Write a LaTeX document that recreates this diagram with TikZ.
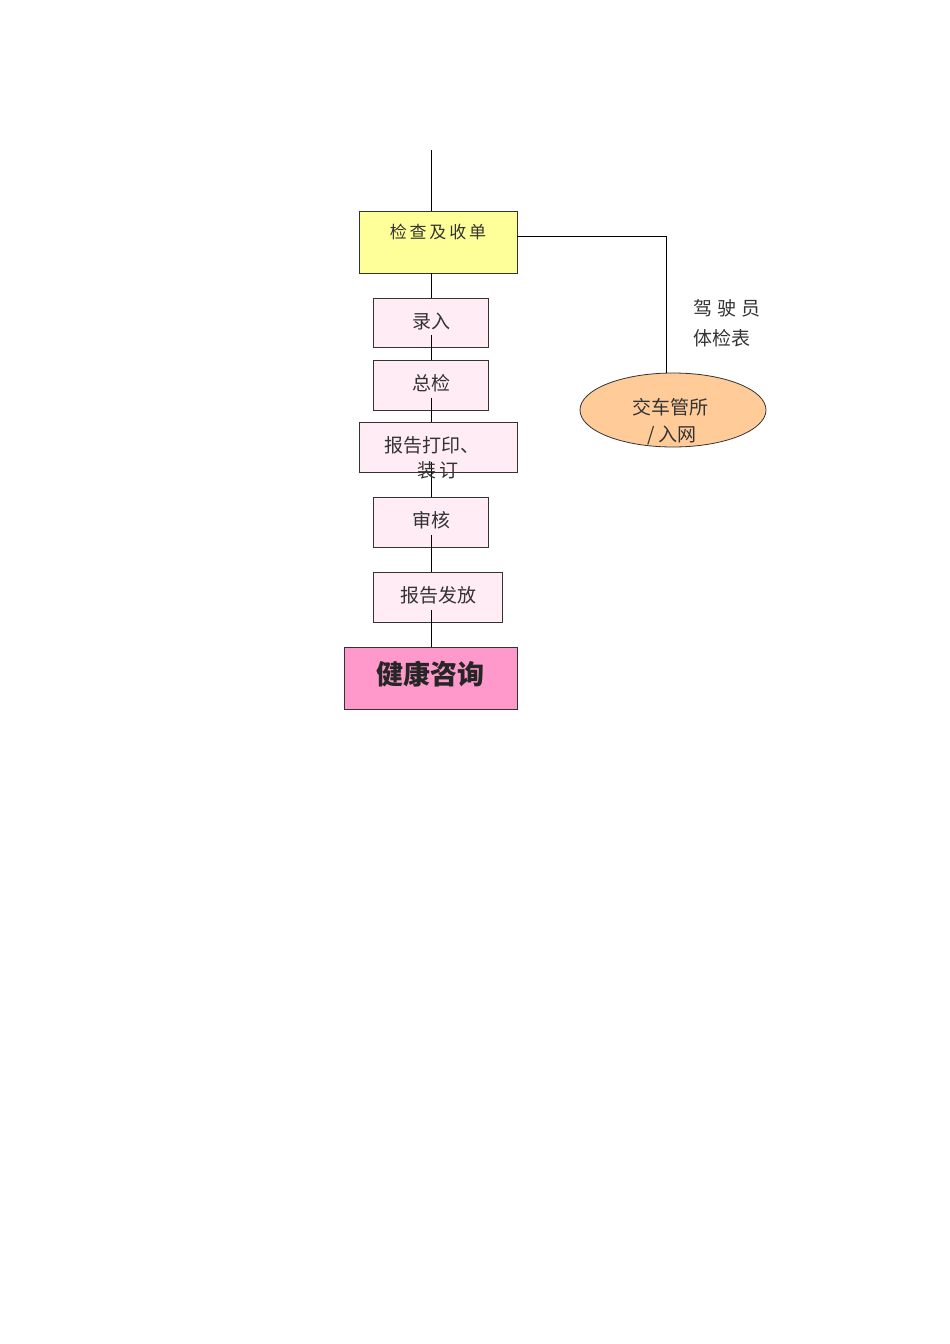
\documentclass[tikz,border=0pt]{standalone}
\usepackage{fontspec}
\newfontfamily\cjk{Noto Sans CJK SC}
\usetikzlibrary{shapes.geometric}
\begin{document}
\begin{tikzpicture}[x=1pt,y=-1pt,
  bx/.style={draw=black!80,line width=0.8pt},
  lbl/.style={font=\cjk\fontsize{19}{22}\selectfont,text=black!80,inner sep=0},
  ln/.style={draw=black,line width=0.8pt}]
\useasboundingbox (0,0) rectangle (950,1344);
% boxes
\draw[bx,fill={rgb,255:red,255;green,255;blue,153}] (359,211) rectangle (517,273);
\coordinate (ytop) at (431,211); \coordinate (ybot) at (431,273);
\draw[bx,fill={rgb,255:red,255;green,236;blue,244}] (373,298) rectangle (488,347);
\draw[bx,fill={rgb,255:red,255;green,236;blue,244}] (373,360) rectangle (488,410);
\draw[bx,fill={rgb,255:red,255;green,236;blue,244}] (359,422) rectangle (517,472);
\draw[bx,fill={rgb,255:red,255;green,236;blue,244}] (373,497) rectangle (488,547);
\draw[bx,fill={rgb,255:red,255;green,236;blue,244}] (373,572) rectangle (502,622);
\draw[bx,fill={rgb,255:red,255;green,153;blue,204}] (344,647) rectangle (517,709);
\node[ellipse,draw=black!80,line width=0.8pt,fill={rgb,255:red,255;green,204;blue,153},minimum width=186,minimum height=74,inner sep=0] (el) at (673,410) {};
% connectors
\coordinate (start) at (431,150);
\draw[ln] (start) -- (ytop);
\draw[ln] (ybot) -- (431,298);
\draw[ln] (431,335) -- (431,360);
\draw[ln] (431,398) -- (431,422);
\draw[ln] (431,462) -- (431,497);
\draw[ln] (431,535) -- (431,572);
\draw[ln] (431,610) -- (431,647);
\coordinate (yr) at (517,236);
\draw[ln] (yr) -| (el.north -| 666,0);
% texts
\node[lbl,font=\cjk\fontsize{17}{20}\selectfont] (t0) at (438,232) {检\,查\,及\,收\,单};
\node[lbl] (t1) at (431,321) {录入};
\node[lbl] (t2) at (431,383) {总检};
\node[lbl] (t3) at (432,445) {报告打印、};
\node[lbl] (t3b) at (438,470) {装\,订};
\node[lbl] (t4) at (431,520) {审核};
\node[lbl] (t5) at (438,595) {报告发放};
\node[lbl,font=\cjk\bfseries\fontsize{27}{30}\selectfont,text=black!85] (t6) at (430,674) {健康咨询};
\node[lbl] (e1) at (670,407) {交车管所};
\node[lbl] (e2) at (672,435) {/\,入网};
\node[lbl,anchor=west] (s1) at (693,308) {驾\;驶\;员};
\node[lbl,anchor=west] (s2) at (693,338) {体检表};
\end{tikzpicture}
\end{document}
